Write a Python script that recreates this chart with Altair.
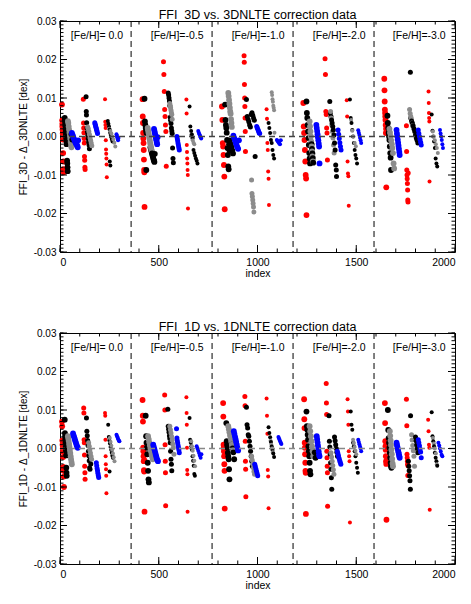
import altair as alt
import pandas as pd

# ---------------- data (y values in units of 1e-3 dex) ----------------
TOP_TITLE = "FFI_3D vs. 3DNLTE correction data"
BOT_TITLE = "FFI_1D vs. 1DNLTE correction data"
TOP_YTITLE = "FFI_3D - \u0394_3DNLTE [dex]"
BOT_YTITLE = "FFI_1D - \u0394_1DNLTE [dex]"

FEH_LABELS = ["[Fe/H]= 0.0", "[Fe/H]=-0.5", "[Fe/H]=-1.0", "[Fe/H]=-2.0", "[Fe/H]=-3.0"]
FEH_X = [187, 593, 1003, 1414, 1819]
FEH_Y = [0.026, 0.026, 0.026, 0.026, 0.026]
GROUP_EDGES = [360, 770, 1180, 1590]
GROUP_WIDTH = 410

X_MAJOR = [0, 500, 1000, 1500, 2000]
Y_MAJOR = [-0.03, -0.02, -0.01, 0.0, 0.01, 0.02, 0.03]

# ---- top panel ----
T_RED_X = [10, 11, 12, 12, 13, 14, 15, 16, 17, 18, 19,
           118, 119, 120, 121, 122, 123, 124, 125, 126, 127,
           228, 229, 230, 231, 232, 233, 234, 235, 236, 237,
           418, 419, 420, 421, 422, 423, 424, 425, 426, 427, 428,
           524, 526, 528, 530, 532, 534, 536, 538,
           640, 641, 642, 643, 644, 645, 646, 647, 648,
           820, 822, 824, 826, 828, 830, 832, 834,
           932, 933, 934, 935, 936, 937, 938, 939,
           1046, 1048, 1050, 1052, 1054, 1056, 1058,
           1232, 1234, 1236, 1238, 1240, 1242, 1244, 1246, 1248,
           1342, 1344, 1346, 1348, 1350, 1352, 1354,
           1452, 1454, 1456, 1458, 1460, 1462,
           1642, 1643, 1644, 1645, 1646, 1647, 1648, 1649, 1650, 1651, 1652,
           1754, 1755, 1756, 1757, 1758, 1759, 1760, 1761, 1762, 1763,
           1866, 1867, 1868, 1869, 1870, 1871]
T_RED_Y = [8.3, 4.2, 3.3, 2.6, 1.8, 0.8, -0.8, -4.3, -6.5, -8.5, -9.3,
           9.7, 3.5, 2.2, 1.0, -0.5, -1.7, -5.2, -6.2, -8.0, -8.6,
           9.7, 3.8, 3.0, 2.2, -1.0, -3.4, -4.5, -5.7, -7.3, -10.6,
           9.7, 5.2, 3.5, 0.9, -0.5, -1.7, -3.5, -6.0, -8.7, -9.3, -18.3,
           19.4, 16.1, 11.7, 7.0, 5.2, 3.0, 1.3, -7.7,
           9.6, 6.0, -2.2, -4.0, -5.7, -7.0, -8.7, -10.0, -18.7,
           7.8, 4.3, -1.7, -2.6, -4.8, -7.4, -10.4, -18.9,
           21.0, 19.3, 13.5, 10.0, 7.8, 4.8, 1.3, -3.9,
           7.1, 4.6, -1.7, -3.5, -9.1, -11.0, -17.8,
           8.7, 2.6, 0.9, -0.9, -3.5, -6.5, -10.0, -10.9, -20.4,
           20.2, 16.1, 6.5, 5.7, 2.2, 0.9, -6.1,
           9.4, 5.2, -6.5, -9.6, -10.3, -18.0,
           15.0, 12.0, 9.1, 7.0, 6.1, 5.2, 4.3, 3.0, 0.9, 2.0, -13.2,
           2.8, -3.9, -8.7, -10.0, -11.0, -12.2, -13.9, -16.5, -17.0, -9.5,
           11.7, 8.7, 6.1, 4.8, 3.9, -11.7]

T_BLACK_X = [24, 25, 26, 27, 28, 29, 30, 31, 32, 33, 36, 37, 38, 39, 58, 62,
             132, 133, 134, 135, 137, 139, 141, 143, 145, 147, 149,
             242, 245, 248, 251, 254, 257, 260, 263, 266, 252, 255,
             428, 430, 432, 434, 436, 438, 437,
             458, 460, 462, 464, 466, 468, 470, 472, 474, 476, 478, 480,
             548, 550, 552, 554, 556, 558, 560, 562, 564, 566, 568, 570, 572, 574,
             656, 660, 664, 668, 672, 676, 680, 684, 688, 692, 696,
             836, 838, 840, 842, 844, 846, 848, 850, 852, 854, 856, 858,
             860, 864, 868, 872, 876,
             944, 948, 952, 956, 960, 964, 968, 972, 976, 980, 984, 988,
             1056, 1060, 1064, 1068, 1072, 1076, 1080, 1084,
             1248, 1250, 1252, 1254, 1256, 1258, 1260, 1262, 1264, 1266,
             1274, 1276, 1278, 1280, 1282,
             1366, 1369, 1372, 1375, 1378, 1381, 1384, 1387, 1390, 1393, 1396, 1399, 1400,
             1468, 1472, 1476, 1480, 1484, 1488, 1492, 1496, 1500, 1504,
             1658, 1660, 1662, 1664, 1666, 1668, 1670, 1672, 1674, 1676,
             1774, 1776, 1780, 1784, 1788, 1792, 1796, 1800, 1804, 1808, 1812,
             1882, 1886, 1890, 1894, 1898, 1902, 1906, 1910]
T_BLACK_Y = [4.8, 4.2, 3.5, 2.8, 2.0, 1.2, 0.4, -0.4, -1.2, -2.0, -6.3, -7.0, -8.0, -9.0, 0.6, -0.8,
             10.3, 6.5, 5.6, 3.6, 2.2, 1.2, 0.3, -0.6, -1.4, -2.2, -3.2,
             4.0, 3.3, 2.6, 1.8, 1.0, 0.4, -0.2, -0.8, -1.3, -6.5, -7.5,
             9.8, 3.9, 3.0, 2.2, 1.5, 0.9, -8.7,
             -2.8, -3.2, -3.6, -4.0, -4.4, -4.8, -5.2, -5.6, -6.0, -6.3, -6.6, -4.5,
             11.3, 10.8, 10.0, 9.2, 8.0, 5.0, 4.2, 3.4, 2.2, 1.4, 0.8, -3.0, -5.7, -6.8,
             7.8, 2.6, 1.4, 0.5, -0.4, -3.5, -4.3, -5.0, -5.7, -6.3, -7.0,
             8.3, 4.3, 3.0, 2.2, 1.0, -0.9, -3.0, -4.8, -7.8, -8.5, -2.0, -3.6,
             -1.0, -2.0, -2.8, -3.6, -4.4,
             9.6, 5.2, 4.5, 3.8, 3.0, 2.5, 5.7, 6.2, 5.5, 4.8, 4.2, -5.2,
             3.5, 2.2, 0.9, -0.9, -1.7, -3.5, -4.8, -5.7,
             9.1, 6.1, 4.8, 3.0, 1.3, -0.4, -2.2, -4.3, -5.7, -7.0,
             -2.0, -3.2, -4.4, -5.6, -6.8,
             9.1, 6.1, 5.2, 4.3, 3.5, 2.6, 1.7, 0.4, -1.7, -3.5, -7.4, -8.7, -10.4,
             9.6, 4.8, 3.5, 1.7, 0.0, -1.7, -3.5, -4.8, -5.7, -7.0,
             5.4, 3.5, 2.2, 0.9, 0.0, -0.9, -2.6, -4.3, -5.5, -8.7,
             16.7, 4.8, 4.0, 3.5, 2.8, 2.0, 1.3, 0.4, -0.4, -1.0, -1.7,
             5.7, 1.5, 0.0, -1.3, -3.0, -5.7, -7.0, -7.8]

T_GRAY_X = [40, 42, 44, 46, 48, 50, 52, 54, 56, 58,
            140, 143, 146, 149, 152, 155, 158, 161,
            250, 255, 260, 265, 270, 275, 280,
            444, 446, 448, 450, 452, 454, 456, 458, 460, 462, 464,
            556, 558, 560, 562, 564, 566, 568,
            664, 668, 672, 676, 680,
            852, 854, 856, 858, 860, 862, 864, 866, 868, 870,
            970, 972, 974, 976, 978, 980, 982,
            1072, 1074, 1076, 1078, 1080, 1082, 1084, 1086,
            1264, 1266, 1268, 1270, 1272, 1274, 1276, 1278, 1280,
            1370, 1373, 1376, 1379, 1382, 1385, 1388,
            1474, 1480, 1486, 1492, 1498,
            1668, 1671, 1674, 1677, 1680, 1683, 1686, 1689, 1692,
            1770, 1773, 1776, 1779, 1782, 1785,
            1888, 1893, 1898, 1903, 1908, 1913]
T_GRAY_Y = [4.0, 3.5, 2.6, 1.8, 1.0, 0.2, -0.6, -1.4, -2.2, -2.8,
            2.5, 2.0, 1.3, 0.5, -0.3, -1.0, -1.7, -2.4,
            2.0, 1.4, 0.8, 0.0, -0.8, -1.6, -2.6,
            2.2, 1.6, 1.0, 0.4, -0.2, -0.8, -1.4, -2.0, -2.6, -3.2, -3.6,
            8.6, 8.0, 7.5, 6.8, 6.2, 5.7, 4.5,
            0.4, -0.4, -1.0, -1.6, -2.0,
            11.3, 10.5, 9.5, 8.5, 7.5, 6.5, 5.9, 4.5, 3.5, 2.5,
            -11.3, -14.8, -15.6, -16.5, -17.4, -18.3, -19.6,
            11.5, 10.8, 9.7, 9.0, 8.0, 7.5, 6.8, 1.0,
            3.9, 2.6, 1.3, 0.0, -1.3, -2.6, -3.9, -5.2, -6.5,
            6.5, 4.8, 3.0, 1.3, -0.4, -2.2, -4.3,
            4.3, 1.5, 0.0, -1.7, -2.5,
            2.0, 1.0, 0.0, -1.0, -2.0, -3.0, -4.3, -7.0, -8.3,
            7.0, 6.0, 5.2, 4.5, 3.5, 2.8,
            1.3, 0.0, -1.0, -2.0, -3.0, -4.3]

T_BLUE_X = [60, 63, 66, 69, 72, 75, 78, 81, 84, 87, 90, 92,
            176, 178, 180, 182, 184, 186, 188, 190,
            286, 288, 290, 292, 294, 296,
            476, 478, 480, 482, 484, 486, 488, 490, 492, 494,
            592, 594, 596, 598, 600, 602, 604,
            700, 703, 706, 709, 712, 715,
            878, 882, 886, 890, 894, 898, 902, 906,
            996, 999, 1002, 1005, 1008, 1011,
            1098, 1102, 1106, 1110, 1114, 1118,
            1298, 1300, 1302, 1304, 1306, 1308, 1310, 1312, 1314,
            1408, 1411, 1414, 1417, 1420, 1423,
            1510, 1513, 1516, 1519, 1522, 1525,
            1704, 1706, 1708, 1710, 1712, 1714, 1716, 1718, 1720,
            1814, 1817, 1820, 1823, 1826, 1829,
            1924, 1927, 1930, 1933, 1936, 1939]
T_BLUE_Y = [0.9, 0.5, 0.0, -0.4, -0.8, -1.2, -1.5, -1.8, -2.1, -2.4, -2.8, -1.0,
            3.6, 3.2, 2.8, 2.4, 2.0, 1.6, 1.2, 0.8,
            0.6, 0.2, -0.2, -0.6, -1.0, -0.4,
            2.0, 1.5, 1.0, 0.5, 0.0, -0.5, -1.0, -1.5, -2.0, -0.2,
            0.0, -0.6, -1.2, -1.8, -2.4, -3.0, -3.5,
            1.4, 1.0, 0.6, 0.2, -0.2, -0.5,
            0.2, -0.4, -1.0, -1.6, -2.2, -2.8, -3.2, -1.0,
            2.6, 2.2, 1.8, 1.4, 1.0, 0.8,
            -0.9, -1.2, -1.5, -1.8, -2.0, -1.0,
            3.0, 2.2, 1.4, 0.6, -0.2, -1.0, -1.8, -2.6, -7.0,
            1.7, 0.6, -0.5, -1.6, -2.6, -3.5,
            1.6, 1.0, 0.4, -0.3, -1.0, -1.7,
            1.7, 0.8, 0.0, -0.8, -1.6, -2.4, -3.2, -4.0, -4.8,
            1.7, 0.8, 0.0, -0.8, -1.5, -2.2,
            1.7, 0.8, 0.0, -0.9, -2.0, -3.0]

# ---- bottom panel ----
B_RED_X = [10, 11, 12, 13, 14, 15, 16, 17, 18, 19, 20,
           120, 121, 122, 123, 124, 125, 126, 127,
           228, 229, 230, 231, 232, 233, 234, 235,
           418, 419, 420, 421, 422, 423, 424, 425, 426, 427, 428,
           530, 531, 532, 533, 534, 535,
           640, 641, 642, 643, 644, 645, 646,
           826, 827, 828, 829, 830, 831, 832, 833, 834,
           936, 937, 938, 939, 940, 941,
           1046, 1048, 1050, 1052, 1054, 1056,
           1236, 1237, 1238, 1239, 1240, 1241, 1242, 1243, 1244, 1245,
           1348, 1349, 1350, 1351, 1352, 1353, 1354, 1355,
           1456, 1458, 1460, 1462, 1464, 1466, 1468,
           1645, 1646, 1647, 1648, 1649, 1650, 1651, 1652, 1653,
           1754, 1756, 1757, 1758, 1759, 1760, 1761, 1762,
           1864, 1866, 1868, 1870, 1872]
B_RED_Y = [7.0, 5.8, 2.1, 1.0, 0.0, -0.8, -2.2, -4.8, -5.8, -7.3, -10.0,
           10.5, 9.2, 2.3, 1.5, -1.7, -4.6, -6.3, -8.0,
           9.2, 8.5, 2.3, -2.0, -4.1, -5.4, -7.1, -11.6,
           12.6, 8.5, 7.0, 0.2, -0.7, -2.0, -3.3, -5.6, -6.0, -3.0, -16.4,
           13.9, 10.0, 1.0, -3.3, -6.3, -14.9,
           13.3, 9.2, 6.2, 0.2, -5.6, -6.7, -16.4,
           11.8, 8.3, 1.0, 0.2, -0.7, -2.0, -4.1, -5.8, -15.6,
           13.5, 11.1, 1.9, -3.3, -5.4, -12.5,
           13.0, 8.5, 3.8, -5.6, -7.3, -15.5,
           12.8, 7.6, 5.3, 1.5, 0.2, -1.5, -3.7, -5.8, -6.3, -17.0,
           16.9, 11.8, 8.8, -0.7, -2.4, -4.6, -6.3, -15.0,
           12.8, 9.6, 6.2, -0.7, -2.0, -3.3, -19.2,
           11.8, 6.6, 1.9, 0.6, -0.3, -2.0, -3.3, -4.0, -18.5,
           12.8, 5.9, -1.5, -2.4, -3.3, -4.1, -7.0, -4.5,
           7.5, 4.5, 1.0, 0.2, -15.9]

B_BLACK_X = [24, 25, 26, 27, 28, 29, 30, 31, 32, 33, 34,
             134, 136, 138, 140, 142, 144, 146, 148, 150, 152, 154, 156,
             244, 247, 250, 253, 256, 259, 262, 265, 268, 251,
             434, 436, 438, 440, 442, 444, 446, 448, 450,
             546, 548, 550, 552, 554, 556, 558, 560, 562, 564, 566,
             656, 659, 662, 665, 668, 671, 674, 677, 680, 683,
             842, 844, 846, 848, 850, 852, 854, 856, 858,
             870, 874, 878, 882,
             944, 947, 950, 953, 956, 959, 962, 965, 968, 971, 974,
             1056, 1060, 1064, 1068, 1072, 1076, 1080, 1084,
             1248, 1250, 1252, 1254, 1256, 1258, 1260, 1262, 1264, 1266, 1268,
             1290, 1294,
             1362, 1364, 1366, 1368, 1370, 1372, 1374, 1376,
             1390, 1393, 1396, 1399, 1402, 1405,
             1472, 1476, 1480, 1484, 1488, 1492, 1496, 1500, 1504, 1508,
             1660, 1662, 1664, 1666, 1668, 1670, 1672, 1674, 1676, 1678,
             1775, 1764, 1766, 1768, 1770, 1772, 1774, 1800, 1803, 1806, 1809, 1812,
             1882, 1886, 1890, 1894, 1898, 1902, 1906, 1910]
B_BLACK_Y = [7.5, 4.0, 3.2, 2.4, 1.5, 0.4, -0.5, -1.8, -5.0, -6.3, -7.1,
             7.9, 4.5, 3.3, 2.1, 0.8, -0.7, -1.9, -3.2, -5.0, -5.4, -2.6, -4.0,
             6.2, 3.0, 2.1, 1.3, 0.4, -0.3, -1.1, -1.9, -2.4, -6.0,
             8.5, 3.2, 1.5, 0.2, -1.5, -3.7, -5.8, -8.0, -8.8,
             10.2, 5.8, 5.0, 4.2, 3.3, 2.6, 1.5, -0.7, -2.8, -4.1, -5.8,
             7.9, 2.3, 1.5, 0.6, -0.3, -2.0, -3.2, -4.5, -6.6, -7.1,
             6.6, 1.9, 1.0, 0.2, -1.1, -2.0, -2.8, -5.4, -8.0,
             1.0, 0.0, -1.0, -2.8,
             10.7, 6.2, 5.3, 3.6, 3.2, 1.9, 0.6, -0.7, -2.0, -3.3, -4.6,
             5.5, 4.0, 2.9, 1.7, 0.5, -0.4, -1.3, -2.2,
             9.6, 5.8, 4.9, 3.6, 2.3, 0.6, -0.7, -2.0, -3.7, -5.8, -6.7,
             -1.0, -2.4,
             8.5, 1.9, 0.4, -1.5, -3.7, -5.4, -7.6, -10.6,
             3.0, 2.0, 1.0, 0.0, -1.0, -2.0,
             9.6, 6.2, 4.9, 1.5, 0.6, -0.7, -2.0, -3.7, -5.0, -6.3,
             10.0, 4.8, 2.7, 1.5, 0.2, -1.1, -2.4, -3.7, -4.6, -5.0,
             8.5, -3.3, -4.6, -5.8, -7.1, -8.4, -10.6, 3.0, 2.0, 1.0, 0.0, -1.1,
             9.4, 3.2, 1.9, 0.6, -1.1, -2.4, -3.3, -4.5]

B_GRAY_X = [40, 42, 44, 46, 48, 50, 52, 54, 56, 58, 60,
            145, 148, 151, 154, 157, 160,
            252, 256, 260, 264, 268, 272, 276,
            446, 449, 452, 455, 458, 461, 464, 467, 470,
            556, 559, 562, 565, 568, 571, 574, 577,
            664, 668, 672, 676, 680, 684,
            852, 855, 858, 861, 864, 867, 870, 873, 876,
            970, 973, 976, 979, 982, 985,
            1066, 1070, 1074, 1078,
            1264, 1267, 1270, 1273, 1276, 1279, 1282,
            1372, 1375, 1378, 1381, 1384, 1387,
            1484, 1488, 1492, 1496, 1500,
            1670, 1672, 1674, 1676, 1678, 1680, 1682, 1684, 1686,
            1780, 1783, 1786, 1789, 1792, 1795,
            1888, 1893, 1898, 1903, 1908]
B_GRAY_Y = [3.2, 2.6, 2.0, 1.2, 0.4, -0.4, -1.2, -2.0, -2.8, -3.5, -4.1,
            1.5, 0.6, -0.3, -1.2, -2.0, -2.8,
            2.7, 1.7, 0.7, -0.3, -1.3, -2.3, -3.3,
            3.2, 2.4, 1.6, 0.8, 0.0, -0.8, -1.6, -2.3, -2.8,
            5.8, 4.9, 4.0, 3.1, 2.2, 1.2, 0.2, -1.5,
            1.9, 0.6, -0.6, -1.9, -3.2, -4.6,
            5.8, 5.0, 4.2, 3.4, 2.6, 1.8, 1.0, 0.2, -0.5,
            -2.0, -3.0, -4.0, -5.0, -6.0, -6.7,
            2.0, 1.0, 0.0, -1.0,
            5.8, 4.5, 3.2, 1.9, 0.6, -0.7, -2.0,
            -1.1, -2.2, -3.3, -4.4, -5.5, -6.7,
            2.3, 1.4, 0.4, -0.6, -1.5,
            4.5, 3.3, 2.1, 0.9, -0.3, -1.5, -2.7, -3.9, -4.6,
            3.6, 2.2, 0.8, -0.6, -2.0, -4.6,
            2.7, 1.3, 0.0, -1.3, -4.1]

B_BLUE_X = [66, 69, 72, 75, 78, 81, 84, 87, 90,
            184, 186, 188, 190, 192, 194, 196,
            286, 289, 292, 295, 298, 301,
            472, 475, 478, 481, 484, 487, 490, 493, 496,
            590, 592, 594, 596, 598, 600, 602, 604,
            692, 696, 700, 704, 708, 712, 716,
            880, 883, 886, 889, 892, 895, 898, 902,
            986, 989, 992, 995, 998, 1001,
            1106, 1109, 1112, 1115, 1118, 1121,
            1300, 1302, 1304, 1306, 1308, 1310, 1312, 1314,
            1404, 1407, 1410, 1413, 1416, 1419, 1422,
            1510, 1513, 1516, 1519, 1522, 1525,
            1704, 1706, 1708, 1710, 1712, 1714, 1716, 1718, 1720,
            1814, 1817, 1820, 1823, 1826, 1829,
            1916, 1920, 1924, 1928, 1932, 1936]
B_BLUE_Y = [3.9, 3.4, 2.9, 2.4, 1.9, 1.4, 0.9, 0.5, 0.2,
            -3.7, -4.5, -5.2, -5.8, -6.4, -7.0, -7.5,
            3.6, 3.2, 2.8, 2.4, 2.0, 1.9,
            1.0, 0.4, -0.2, -0.8, -1.4, -2.0, -2.6, -3.0, -3.3,
            5.1, 2.7, 2.0, 1.4, 0.8, 0.2, -0.4, -1.1,
            0.6, 0.0, -0.6, -1.2, -1.8, -2.4, -1.5,
            4.5, 3.8, 3.1, 2.4, 1.7, 1.0, 0.2, -0.5,
            -4.1, -4.7, -5.3, -5.9, -6.5, -7.1,
            3.0, 2.6, 2.2, 1.8, 1.4, 1.2,
            3.2, 2.4, 1.6, 0.8, 0.0, -0.8, -1.6, -2.0,
            -0.7, -1.3, -1.9, -2.5, -3.1, -3.6, -4.1,
            2.3, 1.7, 1.1, 0.5, 0.0, -0.7,
            1.5, 1.0, 0.5, 0.0, -0.5, -1.0, -1.5, -2.0, -2.4,
            2.3, 1.5, 0.7, -0.1, -0.9, -2.4,
            1.5, 0.8, 0.0, -0.8, -1.6, -2.0]

COLOR_DOMAIN = ["red", "black", "gray", "blue"]
COLOR_RANGE = ["#ff0000", "#000000", "#8c8c8c", "#0000ff"]

# ---------------- build tables ----------------
def build(series):
    rows = []
    for name, xs, ys in series:
        for x, y in zip(xs, ys):
            r = x % GROUP_WIDTH
            s = "A" if r < 105 else ("B" if r < 212 else "C")
            rows.append({"index": x, "val": y / 1000.0, "c": name, "s": s})
    return pd.DataFrame(rows).sort_values("index", kind="stable")

top_df = build([("red", T_RED_X, T_RED_Y), ("black", T_BLACK_X, T_BLACK_Y),
                ("gray", T_GRAY_X, T_GRAY_Y), ("blue", T_BLUE_X, T_BLUE_Y)])
bot_df = build([("red", B_RED_X, B_RED_Y), ("black", B_BLACK_X, B_BLACK_Y),
                ("gray", B_GRAY_X, B_GRAY_Y), ("blue", B_BLUE_X, B_BLUE_Y)])

Y_MINOR = [round(-0.03 + 0.001 * i, 3) for i in range(61)]
X_MINOR = [100 * i for i in range(21)]

W, H = 395, 231
FONT = "Liberation Sans"
xs = alt.Scale(domain=[0, 2000], nice=False, zero=False)
ys = alt.Scale(domain=[-0.03, 0.03], nice=False, zero=False)

XAX = alt.Axis(values=X_MAJOR, format="d", title="index", grid=False,
               domain=False, ticks=False, labelFontSize=10.5,
               labelPadding=5, titlePadding=1, titleFontSize=10.5,
               labelOverlap=False, titleFontWeight="normal",
               labelColor="#000", titleColor="#000")


def yaxis(title):
    return alt.Axis(values=Y_MAJOR, grid=False, domain=False, ticks=False,
                    labelExpr="replace(format(datum.value, '.2f'), '\u2212', '-')",
                    labelOverlap=False, title=title, labelFontSize=10, labelPadding=4,
                    titlePadding=5, titleFontSize=10, titleFontWeight="normal",
                    labelColor="#000", titleColor="#000")


def panel(df, title, ytitle, zero_color):
    YAX = yaxis(ytitle)

    def XQ(field):
        return alt.X(field, scale=xs, axis=XAX)

    def YQ(field):
        return alt.Y(field, scale=ys, axis=YAX)

    pts = alt.Chart(df).mark_circle(opacity=1).encode(
        x=XQ("index:Q"),
        y=YQ("val:Q"),
        color=alt.Color("c:N", scale=alt.Scale(domain=COLOR_DOMAIN, range=COLOR_RANGE), legend=None),
        size=alt.Size("s:O", scale=alt.Scale(domain=["A", "B", "C"], range=[34, 16, 7]), legend=None),
    )
    vlines = alt.Chart(pd.DataFrame({"x": GROUP_EDGES})).mark_rule(
        color="#000", strokeDash=[6, 4], strokeWidth=1).encode(x=XQ("x:Q"))
    hline = alt.Chart(pd.DataFrame({"y": [0.0]})).mark_rule(
        color=zero_color, strokeDash=[6, 4], strokeWidth=1.3).encode(y=YQ("y:Q"))
    labels = alt.Chart(pd.DataFrame({"x": FEH_X, "y": FEH_Y, "t": FEH_LABELS})).mark_text(
        fontSize=10.5, font=FONT, color="#000", baseline="middle", align="center").encode(
        x=XQ("x:Q"), y=YQ("y:Q"), text="t:N")
    ymaj = pd.DataFrame({"y": Y_MAJOR})
    ymin = pd.DataFrame({"y": Y_MINOR})
    xmaj = pd.DataFrame({"x": X_MAJOR})
    xmin = pd.DataFrame({"x": X_MINOR})
    tk = dict(color="#000", strokeWidth=1)
    ticks = [
        alt.Chart(ymaj).mark_rule(**tk).encode(y=YQ("y:Q"), x=alt.value(0), x2=alt.value(7)),
        alt.Chart(ymin).mark_rule(**tk).encode(y=YQ("y:Q"), x=alt.value(0), x2=alt.value(3.5)),
        alt.Chart(ymaj).mark_rule(**tk).encode(y=YQ("y:Q"), x=alt.value(W - 7), x2=alt.value(W)),
        alt.Chart(ymin).mark_rule(**tk).encode(y=YQ("y:Q"), x=alt.value(W - 3.5), x2=alt.value(W)),
        alt.Chart(xmaj).mark_rule(**tk).encode(x=XQ("x:Q"), y=alt.value(H - 7), y2=alt.value(H)),
        alt.Chart(xmin).mark_rule(**tk).encode(x=XQ("x:Q"), y=alt.value(H - 3.5), y2=alt.value(H)),
        alt.Chart(xmaj).mark_rule(**tk).encode(x=XQ("x:Q"), y=alt.value(0), y2=alt.value(7)),
        alt.Chart(xmin).mark_rule(**tk).encode(x=XQ("x:Q"), y=alt.value(0), y2=alt.value(3.5)),
    ]
    return alt.layer(pts, vlines, hline, labels, *ticks).properties(
        width=W, height=H,
        title=alt.TitleParams(title, fontSize=12.5, fontWeight="normal", font=FONT,
                              color="#000", offset=-5, anchor="middle"))


top = panel(top_df, TOP_TITLE, TOP_YTITLE, "#444444")
bot = panel(bot_df, BOT_TITLE, BOT_YTITLE, "#888888")

chart = alt.vconcat(top, bot, spacing=40).properties(
    padding={"left": 9, "top": 0, "right": 0, "bottom": 0}
).configure(font=FONT).configure_view(stroke="#000", strokeWidth=1)

chart.save("out.html", embed_options={"renderer": "svg", "actions": False})
